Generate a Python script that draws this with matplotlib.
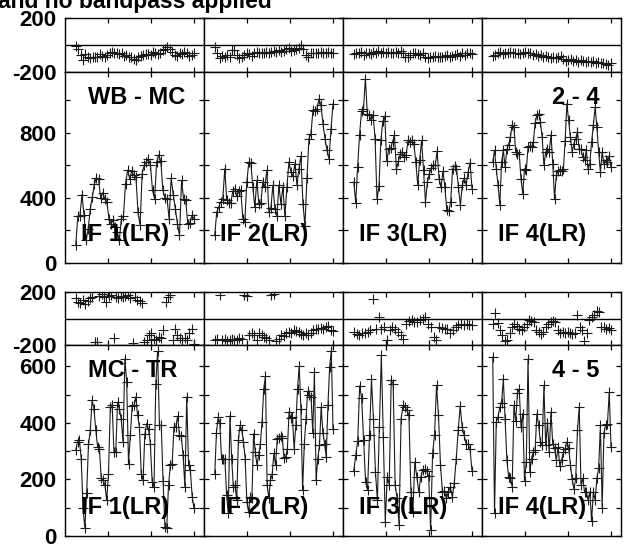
import numpy as np
import matplotlib.pyplot as plt

plt.rcParams['font.family'] = ['Liberation Sans', 'DejaVu Sans']
plt.rcParams['font.weight'] = 'bold'
plt.rcParams['axes.unicode_minus'] = False

title = "and no bandpass applied"
baseline_labels = ["WB - MC", "MC - TR"]
station_labels = ["2 - 4", "4 - 5"]
if_labels = ["IF 1(LR)", "IF 2(LR)", "IF 3(LR)", "IF 4(LR)"]

# upper block, baseline WB - MC (station 2 - 4)
phase_top_if1 = [-5, -32, -74, -111, -67, -86, -99, -91, -91, -86, -67, -81, -91, -74, -57, -49, -62,
                 -57, -67, -62, -81, -74, -86, -91, -106, -111, -91, -81, -74, -67, -67, -74, -49, -57,
                 -67, -62, -37, -32, -12, -32, -49, -74, -81, -62, -67, -49, -62, -81, -74, -57]
phase_top_if2 = [-12, -62, -99, -81, -91, -74, -86, -37, -37, -74, -99, -86, -74, -62, -67, -81, -62,
                 -49, -62, -57, -62, -49, -57, -49, -42, -49, -37, -49, -42, -32, -25, -42, -37, -32,
                 -25, 0, -32, -74, -86, -57, -62, -57, -62, -49, -57, -62, -49, -57, -62]
phase_top_if3 = [-67, -57, -62, -49, -74, -62, -57, -67, -49, -57, -42, -57, -49, -62, -49, -62, -57,
                 -49, -57, -42, -57, -86, -91, -74, -62, -57, -67, -74, -62, -86, -99, -86, -91, -81,
                 -86, -91, -86, -81, -74, -91, -81, -74, -67, -81, -62, -74, -57, -62, -67]
phase_top_if4 = [-81, -74, -62, -49, -67, -57, -62, -49, -62, -57, -62, -67, -57, -49, -57, -62, -74,
                 -67, -81, -74, -86, -81, -91, -99, -91, -99, -91, -81, -106, -116, -111, -106, -116,
                 -111, -124, -111, -116, -124, -116, -124, -116, -131, -124, -131, -136, -141, -148, -136]

amp_top_if1 = [109, 289, 289, 420, 293, 139, 211, 334, 406, 488, 523, 515, 400, 433, 396, 375, 273,
               242, 262, 221, 191, 139, 273, 289, 488, 570, 519, 564, 539, 529, 314, 232, 549, 601,
               621, 642, 601, 447, 396, 621, 666, 625, 447, 400, 396, 273, 523, 420, 334, 242, 170,
               508, 392, 385, 242, 248, 293, 273]
amp_top_if2 = [174, 314, 344, 375, 392, 580, 385, 369, 371, 441, 457, 412, 441, 447, 273, 252, 498,
               621, 617, 467, 344, 508, 365, 371, 498, 467, 570, 314, 338, 478, 334, 289, 478, 365,
               467, 289, 467, 621, 560, 535, 611, 482, 580, 658, 365, 228, 523, 765, 795, 939, 933,
               949, 1007, 970, 857, 765, 693, 642, 822, 980]
amp_top_if3 = [498, 371, 590, 789, 933, 945, 1134, 918, 908, 877, 908, 765, 392, 472, 754, 871, 904,
               625, 699, 707, 744, 785, 576, 625, 672, 683, 652, 662, 754, 744, 754, 734, 621, 482,
               631, 754, 570, 375, 498, 549, 584, 601, 601, 687, 519, 467, 564, 467, 324, 318, 375,
               580, 597, 580, 467, 355, 478, 523, 482, 560, 617, 457]
amp_top_if4 = [621, 693, 580, 478, 359, 621, 693, 590, 699, 728, 775, 851, 836, 683, 672, 672, 519,
               426, 580, 570, 713, 720, 713, 744, 863, 908, 918, 867, 775, 601, 683, 699, 683, 789,
               611, 396, 539, 564, 570, 564, 576, 748, 980, 877, 775, 683, 734, 765, 806, 703, 699,
               652, 631, 693, 576, 611, 744, 847, 959, 836, 683, 560, 683, 611, 631, 621, 658, 590]

# lower block, baseline MC - TR (station 4 - 5)
phase_bot_if1 = [151, 126, 118, 139, 113, 134, 151, 164, -176, -176, 169, 184, 159, 126, 169, 176,
                 -144, 159, 151, 169, 164, 169, 176, 151, -184, 159, 139, 134, 118, -176, -164, -126,
                 -113, -151, -159, -139, -144, -88, 126, 164, 176, -159, -83, -126, -144, -159, -144,
                 -159, -108, -76, -189]
phase_bot_if2 = [-159, -151, 176, -159, -151, -169, -159, -151, -164, -159, -144, -151, 176, 169,
                 -126, -108, -126, -159, -108, -126, -139, -144, -159, 176, 184, -169, -151, -126,
                 -132, -113, -101, -108, -88, -93, -101, -118, -126, -108, -126, -113, -88, -83, -76,
                 -68, -76, -63, -58, -88, -93]
phase_bot_if3 = [-101, -118, -126, -113, -108, -101, -88, 144, -83, 13, -76, -63, -159, -88, -63, -76,
                 -101, -126, -151, -38, -18, -13, -25, -25, -13, 0, 13, -38, -63, -139, -164, -63, -68,
                 -76, -76, -108, -88, -63, -50, -38, -50, -38, -50, -50]
phase_bot_if4 = [-38, 38, -33, -88, -126, -169, -159, -113, -63, -43, -58, -76, -88, -63, -38, -13,
                 -18, -25, -88, -101, -118, -101, -63, -43, -25, -18, -25, -88, -113, -101, -108, -101,
                 -108, -118, -108, 25, -63, -88, -169, -108, -13, 13, 25, 58, 50, -63, -63, -76, -68, -88]

amp_bot_if1 = [304, 333, 339, 274, 98, 29, 151, 324, 374, 480, 451, 376, 315, 309, 204, 198, 182,
               127, 221, 456, 465, 298, 298, 474, 451, 413, 333, 627, 545, 256, 356, 460, 462, 492,
               427, 386, 221, 198, 362, 398, 378, 327, 192, 174, 539, 653, 392, 392, 194, 33, 29,
               180, 251, 256, 386, 386, 424, 356, 354, 286, 174, 492, 251, 233, 139, 98]
amp_bot_if2 = [218, 366, 421, 401, 274, 272, 274, 145, 80, 425, 274, 174, 180, 127, 339, 392, 374,
               333, 274, 121, 86, 139, 133, 362, 298, 251, 286, 327, 404, 521, 566, 180, 135, 198,
               218, 292, 251, 342, 347, 354, 347, 276, 280, 309, 439, 418, 421, 309, 392, 521, 601,
               451, 162, 324, 413, 512, 498, 492, 366, 580, 198, 274, 321, 456, 366, 327, 280, 462,
               598, 656, 380]
amp_bot_if3 = [229, 286, 335, 531, 488, 339, 192, 162, 359, 554, 413, 227, 127, 386, 639, 351, 51,
               209, 182, 551, 539, 180, 135, 39, 413, 462, 456, 445, 427, 156, 86, 262, 209, 156, 209,
               233, 236, 229, 213, 21, 292, 359, 533, 427, 251, 156, 159, 133, 156, 174, 139, 186,
               274, 374, 460, 386, 356, 327, 324, 309, 229]
amp_bot_if4 = [633, 80, 404, 421, 456, 472, 554, 413, 268, 209, 204, 174, 462, 406, 507, 519, 386,
               433, 194, 262, 627, 227, 274, 298, 304, 433, 392, 333, 321, 533, 321, 401, 298, 439,
               324, 312, 268, 315, 248, 268, 298, 309, 333, 312, 253, 201, 166, 204, 374, 456, 180,
               204, 156, 156, 127, 156, 53, 156, 127, 204, 239, 392, 98, 366, 394, 398, 509, 315]

blocks = [
    dict(phases=[phase_top_if1, phase_top_if2, phase_top_if3, phase_top_if4],
         amps=[amp_top_if1, amp_top_if2, amp_top_if3, amp_top_if4],
         label=baseline_labels[0], station=station_labels[0],
         phase_y=(18, 72), amp_y=(72, 263), amp_max=1175, step=200, label_step=400),
    dict(phases=[phase_bot_if1, phase_bot_if2, phase_bot_if3, phase_bot_if4],
         amps=[amp_bot_if1, amp_bot_if2, amp_bot_if3, amp_bot_if4],
         label=baseline_labels[1], station=station_labels[1],
         phase_y=(292, 345), amp_y=(345, 536), amp_max=676, step=100, label_step=200),
]

W, H = 628, 545
cols = [65, 204, 343, 482, 621]
t0, t1, tmax = 0.25, 3.0, 139 / 43.0


def rect(x0, y0, x1, y1):
    return [x0 / W, 1 - y1 / H, (x1 - x0) / W, (y1 - y0) / H]


def style(ax):
    ax.set_xlim(0, tmax)
    ax.set_xticks([1, 2, 3])
    ax.set_xticklabels([])
    ax.tick_params(direction='in', top=True, right=True, length=3.5, width=0.9,
                   labelsize=16, pad=6)
    for s in ax.spines.values():
        s.set_linewidth(1.0)


fig = plt.figure(figsize=(W / 100, H / 100), dpi=100)

for b in blocks:
    for i in range(4):
        # phase strip
        axp = fig.add_axes(rect(cols[i], b['phase_y'][0], cols[i + 1], b['phase_y'][1]))
        ph = b['phases'][i]
        axp.plot(np.linspace(t0, t1, len(ph)), ph, linestyle='none', marker='+',
                 markersize=6.5, mew=0.8, color='#1a1a1a')
        axp.axhline(0, color='black', lw=1.0)
        axp.set_ylim(-200, 200)
        axp.set_yticks([-200, 200])
        style(axp)
        if i > 0:
            axp.set_yticklabels([])

        # amplitude panel
        axa = fig.add_axes(rect(cols[i], b['amp_y'][0], cols[i + 1], b['amp_y'][1]))
        am = b['amps'][i]
        axa.plot(np.linspace(t0, t1, len(am)), am, '-', marker='+', markersize=6.5,
                 mew=0.8, lw=0.8, color='#1a1a1a')
        axa.set_ylim(0, b['amp_max'])
        yt = np.arange(0, b['amp_max'], b['step'])
        axa.set_yticks(yt)
        style(axa)
        if i == 0:
            axa.set_yticklabels([str(int(v)) if v % b['label_step'] == 0 else '' for v in yt])
        else:
            axa.set_yticklabels([])
        axa.text(0.115, 0.147, if_labels[i], transform=axa.transAxes, fontsize=17,
                 fontweight='bold', ha='left', va='center')
        if i == 0:
            axa.text(0.165, 0.869, b['label'], transform=axa.transAxes, fontsize=17,
                     fontweight='bold', ha='left', va='center')
        if i == 3:
            axa.text(0.505, 0.869, b['station'], transform=axa.transAxes, fontsize=17,
                     fontweight='bold', ha='left', va='center')

fig.text(-0.003, 1 - 8 / H, title, fontsize=16.5, fontweight='bold', ha='left', va='baseline')

fig.savefig('out.png', dpi=100)
